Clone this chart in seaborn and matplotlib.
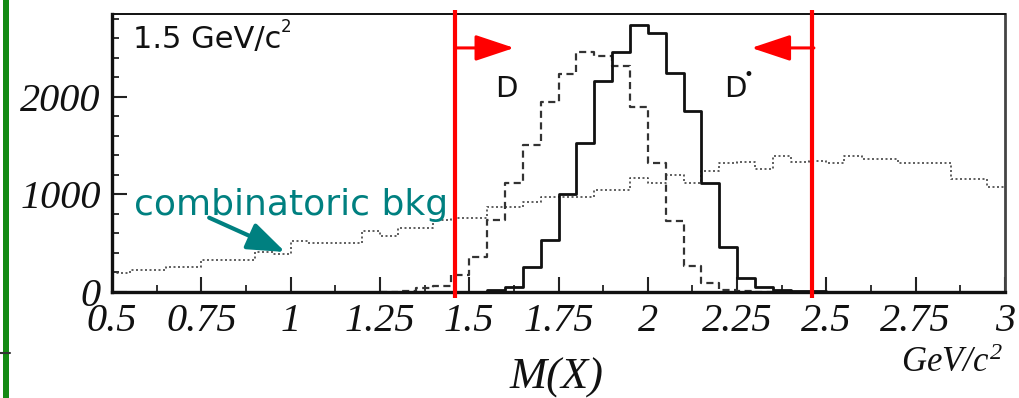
import numpy as np
import pandas as pd
import matplotlib
matplotlib.use("Agg")
import matplotlib.pyplot as plt
from matplotlib.patches import Rectangle
from matplotlib.lines import Line2D
from matplotlib.ticker import FixedLocator, MultipleLocator
import seaborn as sns

# ---- histogram contents (counts per 0.05 GeV/c^2 bin) ----
bin_width = 0.05

# signal D mass peak, bins starting at 1.45
signal_start = 1.45
signal_counts = [0, 5, 20, 50, 256, 533, 1005, 1528, 2164, 2460, 2738, 2656,
                 2246, 1856, 1118, 462, 140, 50, 25, 15, 8, 5, 3, 0]

# D* reflection, bins starting at 1.25
reflection_start = 1.25
reflection_counts = [5, 10, 40, 60, 175, 360, 738, 1118, 1508, 1949, 2236,
                     2460, 2420, 2318, 1897, 1323, 728, 267, 92, 20, 8, 3, 0]

# combinatoric background, bins starting at 0.50
background_start = 0.50
background_counts = [195, 225, 225, 256, 256, 328, 328, 328, 410, 390,
                     520, 500, 500, 500, 622, 574, 656, 656, 738, 760,
                     760, 872, 872, 923, 974, 974, 974, 1046, 1046, 1169,
                     1118, 1200, 1118, 1241, 1323, 1333, 1261, 1395, 1333, 1343,
                     1323, 1395, 1364, 1364, 1323, 1323, 1323, 1159, 1159, 1077]

x_ticks = [0.5, 0.75, 1, 1.25, 1.5, 1.75, 2, 2.25, 2.5, 2.75, 3]
x_tick_labels = ["0.5", "0.75", "1", "1.25", "1.5", "1.75", "2", "2.25", "2.5", "2.75", "3"]
y_ticks = [0, 1000, 2000]
y_tick_labels = ["0", "1000", "2000"]

cut_low = 1.46
cut_high = 2.46


def to_frame(start, counts):
    n = len(counts)
    lo = start + bin_width * np.arange(n)
    edges = [float(v) for v in np.round(np.append(lo, lo[-1] + bin_width), 4)]
    return pd.DataFrame({"mass": np.round(lo + bin_width / 2, 4), "count": counts}), edges


sns.set_style("white")
plt.rcParams["mathtext.fontset"] = "custom"
plt.rcParams["mathtext.it"] = "Liberation Serif:italic"
plt.rcParams["mathtext.rm"] = "Liberation Serif:italic"

W, H = 1019, 398
fig = plt.figure(figsize=(W / 100, H / 100), dpi=100)
fig.patch.set_facecolor("white")
ax = fig.add_axes([112 / W, 1 - 292 / H, (1005 - 112) / W, (292 - 14) / H])
ax.set_facecolor("white")

bkg_df, bkg_edges = to_frame(background_start, background_counts)
refl_df, refl_edges = to_frame(reflection_start, reflection_counts)
sig_df, sig_edges = to_frame(signal_start, signal_counts)

sns.histplot(data=bkg_df, x="mass", weights="count", bins=bkg_edges,
             element="step", fill=False, color="#444444", linewidth=1.2,
             linestyle=(0, (1.2, 1.5)), ax=ax)
sns.histplot(data=refl_df, x="mass", weights="count", bins=refl_edges,
             element="step", fill=False, color="#333333", linewidth=1.6,
             linestyle=(0, (3.2, 2.0)), ax=ax)
sns.histplot(data=sig_df, x="mass", weights="count", bins=sig_edges,
             element="step", fill=False, color="#111111", linewidth=2.0, ax=ax)

ax.set_xlim(0.5, 3.0)
ax.set_ylim(0, 2851)
ax.set_xlabel("")
ax.set_ylabel("")

# axes frame and ticks
for side, lw in (("left", 2.4), ("bottom", 2.4), ("top", 1.4), ("right", 2.0)):
    ax.spines[side].set_visible(True)
    ax.spines[side].set_linewidth(lw)
    ax.spines[side].set_color("#111111")
ax.spines["right"].set_color("#444444")

ax.xaxis.set_major_locator(FixedLocator(x_ticks))
ax.xaxis.set_minor_locator(MultipleLocator(0.125))
ax.yaxis.set_major_locator(FixedLocator(y_ticks))
ax.yaxis.set_minor_locator(MultipleLocator(200))
ax.set_xticklabels(x_tick_labels)
ax.set_yticklabels(y_tick_labels)
ax.tick_params(which="major", direction="in", length=11, width=1.5,
               color="#222222", top=False, right=False, bottom=True, left=True)
ax.tick_params(which="minor", direction="in", length=5, width=1.3,
               color="#222222", top=False, right=False, bottom=True, left=True)
ax.tick_params(axis="x", which="major", pad=8)
ax.tick_params(axis="y", which="major", pad=8)
for lab in ax.get_xticklabels() + ax.get_yticklabels():
    lab.set_fontfamily("Liberation Serif")
    lab.set_fontstyle("italic")
    lab.set_fontsize(29)
    lab.set_color("#111111")

# mass window cuts
for cut in (cut_low, cut_high):
    ax.plot([cut, cut], [2892, -62], color="#ff0000", lw=3.0,
            solid_capstyle="butt", clip_on=False, zorder=5)

arrow_y = 2503
ax.annotate("", xy=(1.626, arrow_y), xytext=(cut_low, arrow_y),
            arrowprops=dict(arrowstyle="-|>,head_length=2.4,head_width=0.8",
                            mutation_scale=10, color="#ff0000", lw=2.2,
                            shrinkA=0, shrinkB=0), zorder=5)
ax.annotate("", xy=(2.29, arrow_y), xytext=(cut_high + 0.005, arrow_y),
            arrowprops=dict(arrowstyle="-|>,head_length=2.4,head_width=0.8",
                            mutation_scale=10, color="#ff0000", lw=2.2,
                            shrinkA=0, shrinkB=0), zorder=5)

sans = "DejaVu Sans"
ax.text(1.604, 2000, "D", ha="center", va="baseline", fontsize=21,
        family=sans, color="#111111")
ax.text(2.245, 2000, "D", ha="center", va="baseline", fontsize=21,
        family=sans, color="#111111")
ax.text(2.283, 2230, "•", ha="center", va="center", fontsize=12,
        family=sans, color="#111111")
ax.text(0.559, 2503, "1.5 GeV/c", ha="left", va="baseline", fontsize=22,
        family=sans, color="#111111")
ax.text(0.987, 2720, "2", ha="center", va="center", fontsize=12,
        family=sans, color="#111111")

# combinatoric background label with arrow
teal = "#008080"
ax.text(0.562, 790, "combinatoric bkg", ha="left", va="baseline",
        fontsize=26, family=sans, color=teal, zorder=6)
ax.annotate("", xy=(0.985, 410), xytext=(0.772, 762),
            arrowprops=dict(arrowstyle="-|>,head_length=2.3,head_width=0.85",
                            mutation_scale=10, color=teal, lw=3.0,
                            shrinkA=0, shrinkB=0), zorder=6)

# axis titles
fig.text(557 / W, 1 - 389 / H, "M(X)", ha="center", va="baseline",
         fontsize=32, family="Liberation Serif", style="italic", color="#111111")
fig.text(1003 / W, 1 - 372 / H, r"$GeV/c^{2}$", ha="right", va="baseline",
         fontsize=25, color="#111111")

# slide decoration on the left edge
fig.add_artist(Rectangle((3 / W, 0), 6 / W, 1, transform=fig.transFigure,
                         facecolor="#148a14", edgecolor="none"))
fig.add_artist(Line2D([0, 10 / W], [1 - 353 / H, 1 - 353 / H],
                      transform=fig.transFigure, color="#333333", lw=1.5))

fig.savefig("out.png", dpi=100)
